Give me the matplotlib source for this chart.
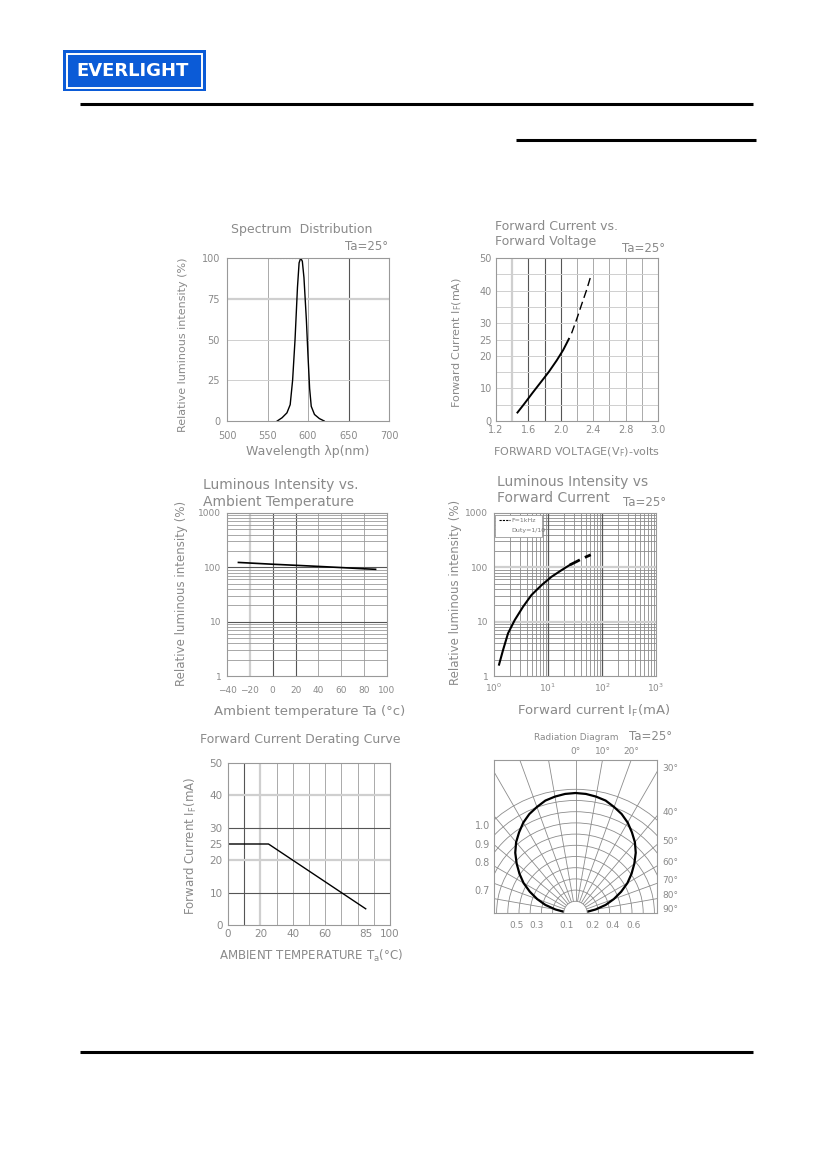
import numpy as np
import matplotlib
matplotlib.use("Agg")
from matplotlib import pyplot as plt
from matplotlib.patches import Rectangle, Wedge, Arc
from matplotlib.ticker import NullLocator

W, H = 827, 1169

# spectrum distribution
wavelength = [562, 568, 574, 578, 581, 584, 587, 589, 591, 593, 595, 598, 600, 602, 604, 608, 614, 620]
rel_spectrum = [0, 2, 5, 10, 25, 50, 82, 97, 100, 98, 88, 62, 40, 20, 9, 4, 1.5, 0]

# forward current vs forward voltage
vf_solid = [1.465, 1.55, 1.65, 1.75, 1.85, 1.95, 2.03, 2.1]
if_solid = [2.6, 5.3, 8.6, 11.8, 15.0, 18.6, 21.8, 25.2]
vf_dash = [2.133, 2.2, 2.255, 2.32, 2.378]
if_dash = [26.9, 31.5, 35.6, 40.3, 45.1]

# luminous intensity vs ambient temperature
temp_c = [-30, -20, 0, 20, 40, 60, 80, 90]
li_temp = [123, 120, 114, 109, 104, 99, 94, 92]

# luminous intensity vs forward current
if_li_solid = [1.24, 1.47, 1.82, 2.42, 3.46, 4.95, 7.6, 11.6, 17.9, 25.5]
li_if_solid = [1.62, 3.0, 6.1, 10.7, 18.9, 31, 47, 67, 89, 111]
if_li_dash = [25.5, 34, 45, 62]
li_if_dash = [111, 128, 148, 170]

# derating curve
derate_temp = [0, 25, 85]
derate_if = [25, 25, 5]

# radiation diagram (angle from axis, relative intensity)
rad_angle = [-90, -85, -80, -75, -70, -65, -60, -55, -50, -45, -40, -35, -30, -25, -20, -15, -10, -5,
             0, 5, 10, 15, 20, 25, 30, 35, 40, 45, 50, 55, 60, 65, 70, 75, 80, 85, 90]
rad_rel = [0.0, 0.09, 0.17, 0.26, 0.34, 0.42, 0.50, 0.57, 0.64, 0.71, 0.77, 0.82, 0.87, 0.91, 0.94, 0.97, 0.985, 0.996,
           1.0, 0.996, 0.985, 0.97, 0.94, 0.91, 0.87, 0.82, 0.77, 0.71, 0.64, 0.57, 0.50, 0.42, 0.34, 0.26, 0.17, 0.09, 0.0]

TXT = '#8a8a8a'
LIGHT = '#cfcfcf'
MID = '#aaaaaa'
DARK = '#555555'

fig = plt.figure(figsize=(W / 100, H / 100), dpi=100)
bg = fig.add_axes([0, 0, 1, 1], zorder=0)
bg.set_xlim(0, W)
bg.set_ylim(H, 0)
bg.axis('off')


def ft(x, y, s, size=8.5, **kw):
    kw.setdefault('ha', 'center')
    kw.setdefault('va', 'center')
    kw.setdefault('color', TXT)
    return bg.text(x, y, s, fontsize=size, **kw)


def px_axes(x0, y0, x1, y1):
    ax = fig.add_axes([x0 / W, 1 - y1 / H, (x1 - x0) / W, (y1 - y0) / H], zorder=2)
    ax.set_facecolor('none')
    for s in ax.spines.values():
        s.set_color('#999999')
        s.set_linewidth(0.8)
    ax.tick_params(length=0, colors=TXT, labelsize=7)
    return ax


def vgrid(ax, xs, color, lw=0.7):
    for x in xs:
        ax.axvline(x, color=color, lw=lw, zorder=0)


def hgrid(ax, ys, color, lw=0.7):
    for y in ys:
        ax.axhline(y, color=color, lw=lw, zorder=0)


# header
bg.add_patch(Rectangle((63, 50), 143, 41, facecolor='#0b5bd7', edgecolor='none'))
bg.add_patch(Rectangle((67, 53.5), 135, 34, fill=False, edgecolor='white', lw=1.4))
bg.text(133, 71, 'EVERLIGHT', color='white', fontsize=13, fontweight='bold', ha='center', va='center')
bg.plot([80, 753], [104, 104], color='black', lw=2.2, solid_capstyle='butt')
bg.plot([516, 756], [140, 140], color='black', lw=2.2, solid_capstyle='butt')
bg.plot([80, 753], [1052, 1052], color='black', lw=2.2, solid_capstyle='butt')

# 1. spectrum distribution
ax1 = px_axes(227, 258, 389, 421)
ax1.set_xlim(500, 700)
ax1.set_ylim(0, 100)
vgrid(ax1, [550, 600], MID)
vgrid(ax1, [650], DARK, 0.8)
hgrid(ax1, [25, 50], LIGHT)
hgrid(ax1, [75], LIGHT, 1.6)
ax1.plot(wavelength, rel_spectrum, color='black', lw=1.0)
peak = int(np.argmax(rel_spectrum))
ax1.hlines(rel_spectrum[peak], 550, wavelength[peak], color='#777777', lw=0.8, ls=':')
ax1.set_xticks([500, 550, 600, 650, 700])
ax1.set_yticks([0, 25, 50, 75, 100])
ax1.tick_params(axis='x', pad=7)
ax1.tick_params(axis='y', pad=5)
ft(302, 229, 'Spectrum  Distribution', 9)
ft(388, 246, 'Ta=25°', 8.5, ha='right')
ft(183, 345, 'Relative luminous intensity (%)', 8, rotation=90)
ft(308, 452, 'Wavelength λp(nm)', 9)

# 2. forward current vs forward voltage
ax2 = px_axes(496, 258, 658, 421)
ax2.set_xlim(1.2, 3.2)
ax2.set_ylim(0, 50)
vgrid(ax2, [1.4], LIGHT, 1.6)
vgrid(ax2, [1.6, 1.8, 2.0], DARK, 0.8)
vgrid(ax2, [2.2, 2.4, 2.6, 2.8, 3.0], MID)
hgrid(ax2, [5, 10, 15, 20, 25, 30, 35, 40, 45], LIGHT)
ax2.plot(vf_solid, if_solid, color='black', lw=1.4)
ax2.plot(vf_dash, if_dash, color='black', lw=1.0, ls=(0, (6, 3)))
ax2.set_xticks([1.2, 1.6, 2.0, 2.4, 2.8, 3.2], labels=['1.2', '1.6', '2.0', '2.4', '2.8', '3.0'])
ax2.set_yticks([0, 10, 20, 25, 30, 40, 50])
ax2.tick_params(axis='x', pad=3)
ax2.tick_params(axis='y', pad=3)
ft(495, 226, 'Forward Current vs.', 9, ha='left')
ft(495, 241, 'Forward Voltage', 9, ha='left')
ft(665, 248, 'Ta=25°', 8.5, ha='right')
ft(457, 342, r'Forward Current $\mathrm{I_F}$(mA)', 8, rotation=90)
ft(577, 452, r'FORWARD VOLTAGE($\mathrm{V_F}$)-volts', 8)

# 3. luminous intensity vs ambient temperature
ax3 = px_axes(227, 513, 387, 676)
ax3.set_yscale('log')
ax3.set_xlim(-40, 100)
ax3.set_ylim(1, 1000)
vgrid(ax3, [-20], LIGHT, 1.6)
vgrid(ax3, [0, 20], DARK, 0.8)
vgrid(ax3, [40, 60, 80], MID)
for dec in [1, 10, 100]:
    hgrid(ax3, [dec * m for m in range(2, 10)], '#9a9a9a', 0.6)
hgrid(ax3, [10, 100], DARK, 0.8)
ax3.plot(temp_c, li_temp, color='black', lw=1.2)
ax3.set_xticks(list(range(-40, 101, 20)))
ax3.set_yticks([1, 10, 100, 1000], labels=['1', '10', '100', '1000'])
ax3.yaxis.set_minor_locator(NullLocator())
ax3.tick_params(labelsize=6.5)
ax3.tick_params(axis='x', pad=7)
ax3.tick_params(axis='y', pad=4)
ft(203, 485, 'Luminous Intensity vs.', 10, ha='left')
ft(203, 502, 'Ambient Temperature', 10, ha='left')
ft(182, 593, 'Relative luminous intensity (%)', 8.5, rotation=90)
ft(310, 711, 'Ambient temperature Ta (°c)', 9.5)

# 4. luminous intensity vs forward current
ax4 = px_axes(494, 513, 656, 676)
ax4.set_xscale('log')
ax4.set_yscale('log')
ax4.set_xlim(1, 1000)
ax4.set_ylim(1, 1000)
for dec in [1, 10, 100]:
    vgrid(ax4, [dec * m for m in range(2, 10)], '#8a8a8a', 0.6)
    hgrid(ax4, [dec * m for m in range(2, 10)], '#8a8a8a', 0.6)
vgrid(ax4, [10, 100], DARK, 0.9)
hgrid(ax4, [10, 100], LIGHT, 1.6)
ax4.plot(if_li_solid, li_if_solid, color='black', lw=1.5)
ax4.plot(if_li_dash, li_if_dash, color='black', lw=2.0, ls=(0, (4, 2)))
ax4.set_xticks([1, 10, 100, 1000], labels=[r'$10^0$', r'$10^1$', r'$10^2$', r'$10^3$'])
ax4.set_yticks([1, 10, 100, 1000], labels=['1', '10', '100', '1000'])
ax4.xaxis.set_minor_locator(NullLocator())
ax4.yaxis.set_minor_locator(NullLocator())
ax4.tick_params(labelsize=6.5)
ax4.tick_params(axis='x', pad=4)
ax4.tick_params(axis='y', pad=4)
ax4.add_patch(Rectangle((0.006, 0.853), 0.29, 0.135, transform=ax4.transAxes,
                        facecolor='white', edgecolor='#999999', lw=0.6, zorder=5))
ax4.plot([0.03, 0.1], [0.955, 0.955], transform=ax4.transAxes, color='black', lw=0.8, ls=(0, (2, 1)), zorder=6)
ax4.text(0.11, 0.955, 'F=1kHz', transform=ax4.transAxes, fontsize=4.5, color='#777777', va='center', zorder=6)
ax4.text(0.11, 0.89, 'Duty=1/10', transform=ax4.transAxes, fontsize=4.5, color='#777777', va='center', zorder=6)
ft(497, 482, 'Luminous Intensity vs', 10, ha='left')
ft(497, 498, 'Forward Current', 10, ha='left')
ft(666, 503, 'Ta=25°', 8.5, ha='right')
ft(455, 592, 'Relative luminous intensity (%)', 8.5, rotation=90)
ft(594, 711, r'Forward current $\mathrm{I_F}$(mA)', 9.5)

# 5. forward current derating curve
ax5 = px_axes(228, 763, 390, 925)
ax5.set_xlim(0, 100)
ax5.set_ylim(0, 50)
vgrid(ax5, [10], DARK, 0.8)
vgrid(ax5, [20], LIGHT, 1.6)
vgrid(ax5, [30, 40, 50, 60, 70, 80, 90], MID)
hgrid(ax5, [10, 30], DARK, 0.8)
hgrid(ax5, [20, 40], LIGHT, 1.6)
ax5.plot(derate_temp, derate_if, color='black', lw=1.0)
ax5.set_xticks([0, 20, 40, 60, 85, 100])
ax5.set_yticks([0, 10, 20, 25, 30, 40, 50])
ax5.tick_params(labelsize=7.5)
ax5.tick_params(axis='x', pad=3)
ax5.tick_params(axis='y', pad=4)
ft(300, 739, 'Forward Current Derating Curve', 9)
ft(191, 846, r'Forward Current $\mathrm{I_F}$(mA)', 8.5, rotation=90)
ft(311, 956, r'AMBIENT TEMPERATURE $\mathrm{T_a}$(°C)', 8.5)

# 6. radiation diagram
x0, y0, x1, y1 = 494, 760, 657, 913
unit = (x1 - x0) / 2
ymax = (y1 - y0) / unit
ax6 = px_axes(x0, y0, x1, y1)
ax6.set_xlim(-1, 1)
ax6.set_ylim(0, ymax)
ax6.set_xticks([])
ax6.set_yticks([])
hole = 11.7 / unit
step = 11.2 / unit
for a in range(-90, 91, 10):
    t = np.radians(a)
    ax6.plot([hole * np.sin(t), 3 * np.sin(t)], [hole * np.cos(t), 3 * np.cos(t)], color='#8c8c8c', lw=0.6, zorder=1)
for k in range(1, 11):
    r = hole + k * step
    ax6.add_patch(Arc((0, 0), 2 * r, 2 * r, theta1=0, theta2=180, color='#8c8c8c', lw=0.6, zorder=1))
diam = 120 / unit
th = np.radians(rad_angle)
rr = diam * np.array(rad_rel)
ax6.plot(rr * np.sin(th), rr * np.cos(th), color='black', lw=1.6, zorder=2)
ax6.add_patch(Wedge((0, 0), hole, 0, 180, facecolor='white', edgecolor='none', zorder=3))
ax6.add_patch(Arc((0, 0), 2 * hole, 2 * hole, theta1=0, theta2=180, color='#8c8c8c', lw=0.6, zorder=4))
for a in range(30, 91, 10):
    yl = 1 / np.tan(np.radians(a)) if a < 90 else 0.0
    ax6.text(1.07, yl + 0.04, f'{a}°', fontsize=6.5, color=TXT, ha='left', va='center', clip_on=False)
for a in [0, 10, 20]:
    ax6.text(ymax * np.tan(np.radians(a)), ymax + 0.05, f'{a}°', fontsize=6.5, color=TXT,
             ha='center', va='bottom', clip_on=False)
for lab, yy in zip(['1.0', '0.9', '0.8', '0.7'], [826, 845, 863, 891]):
    ft(490, yy, lab, 7, ha='right')
for lab, xx in zip(['0.5', '0.3', '0.1', '0.2', '0.4', '0.6'], [517, 537, 567, 593, 613, 634]):
    ft(xx, 925, lab, 6.5)
ft(576, 738, 'Radiation Diagram', 6.5)
ft(672, 737, 'Ta=25°', 8.5, ha='right')

fig.savefig('out.png', dpi=100)
